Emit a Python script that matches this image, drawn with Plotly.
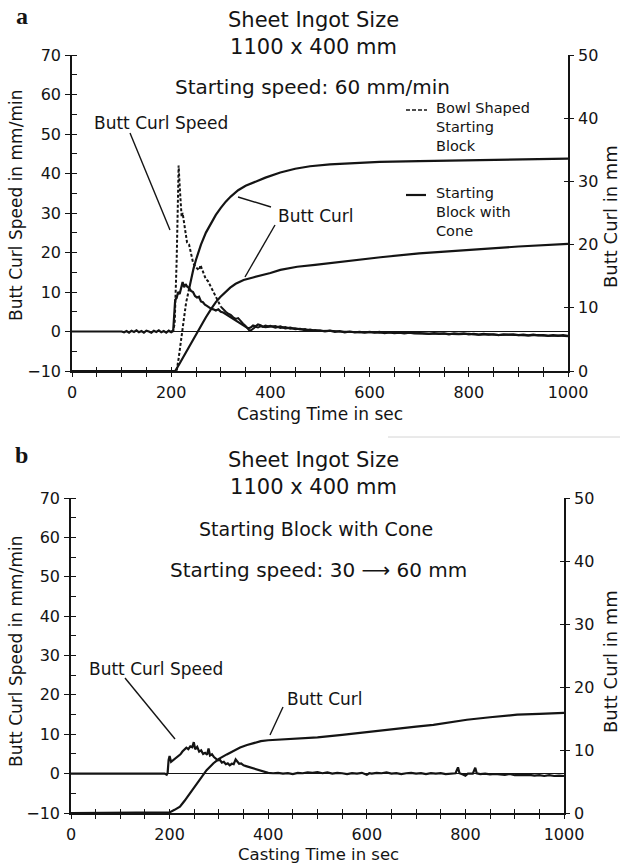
import plotly.graph_objects as go

# ---------------------------------------------------------------- data
# Panel a: starting speed 60 mm/min, two starting-block shapes
t_a_cone_speed = [0, 50, 100, 105, 110, 115, 120, 125, 130, 135, 140, 145, 150, 155, 160, 165, 170, 175,
                  180, 185, 190, 195, 200, 204, 206, 208, 211, 214, 217, 220, 223, 226, 229, 232, 236, 240,
                  244, 248, 252, 256, 260, 264, 268, 272, 276, 280, 285, 290, 295, 300, 305, 310, 315, 320,
                  325, 330, 335, 340, 345, 350, 355, 360, 365, 370, 375, 380, 385, 390, 395, 400, 410, 420,
                  430, 440, 450, 460, 470, 480, 490, 500, 510, 520, 530, 540, 550, 560, 570, 580, 590, 600,
                  610, 620, 630, 640, 650, 660, 670, 680, 690, 700, 710, 720, 730, 740, 750, 760, 770, 780,
                  790, 800, 810, 820, 830, 840, 850, 860, 870, 880, 890, 900, 910, 920, 930, 940, 950, 960,
                  970, 980, 990, 1000]
v_a_cone_speed = [0.0, 0.0, 0.0, -0.2, 0.1, -0.3, 0.2, -0.1, 0.3, -0.2, 0.1, -0.3, 0.2, 0.0, -0.3, 0.2, -0.1, 0.3,
                  -0.2, 0.1, -0.3, 0.2, -0.2, 0.1, 5.5, 8.0, 8.5, 10.0, 9.5, 10.8, 12.5, 11.2, 12.0, 11.4, 11.0, 10.3,
                  10.0, 9.0, 8.6, 8.8, 7.6, 7.4, 6.8, 6.5, 6.1, 5.8, 5.6, 5.3, 5.6, 5.0, 4.8, 4.4, 4.0, 3.5,
                  3.1, 2.7, 2.2, 1.9, 1.4, 1.0, 0.8, 1.0, 1.5, 1.3, 1.8, 1.6, 1.2, 1.5, 1.3, 1.4, 1.0, 1.3,
                  0.8, 1.0, 0.6, 0.7, 0.3, 0.5, 0.2, 0.3, 0.0, 0.2, -0.1, 0.1, -0.2, 0.0, -0.2, -0.1, -0.3, -0.1,
                  -0.3, -0.1, -0.4, -0.2, -0.4, -0.3, -0.5, -0.3, -0.5, -0.4, -0.5, -0.6, -0.4, -0.6, -0.5, -0.7, -0.5, -0.6,
                  -0.5, -0.7, -0.6, -0.8, -0.6, -0.8, -0.7, -0.9, -0.7, -0.8, -0.7, -0.9, -0.8, -1.0, -0.8, -1.0, -0.9, -1.1,
                  -0.9, -1.1, -0.9, -1.1]

t_a_bowl_speed = [200, 204, 207, 209, 211, 213, 215, 217, 219, 221, 223, 226, 229, 232, 236, 240, 244, 248,
                  252, 256, 259, 262, 266, 270, 274, 278, 282, 286, 290, 295, 300, 305, 310, 315, 320, 325,
                  330, 335, 340, 345, 350, 355, 358, 362, 366, 370, 375, 380, 390, 400, 410, 420, 430, 440,
                  450, 460, 470, 480, 490, 500, 520, 540, 560, 580, 600, 620, 640, 660, 680, 700, 720, 740,
                  760, 780, 800, 820, 840, 860, 880, 900, 920, 940, 960, 980, 1000]
v_a_bowl_speed = [0.0, 0.3, 2.0, 8.0, 18.0, 30.0, 42.0, 37.0, 31.0, 29.0, 30.0, 27.0, 24.0, 22.5, 22.0, 19.5, 17.5, 16.5,
                  16.0, 15.5, 16.8, 15.8, 14.0, 13.2, 12.8, 11.8, 10.5, 9.6, 8.5, 7.4, 6.3, 5.6, 5.0, 4.5, 4.2, 3.6,
                  3.2, 3.4, 2.6, 2.0, 1.4, 0.6, 0.2, 0.4, 0.9, 1.2, 1.0, 1.3, 1.1, 1.2, 1.4, 0.9, 1.1, 0.7,
                  0.8, 0.5, 0.6, 0.2, 0.4, 0.1, 0.2, 0.0, -0.1, -0.2, -0.1, -0.3, -0.2, -0.4, -0.3, -0.4, -0.6, -0.5,
                  -0.6, -0.7, -0.6, -0.8, -0.7, -0.9, -0.8, -0.9, -1.0, -0.9, -1.1, -1.0, -1.2]
a_bowl_speed_dash_until = 300

t_a_cone_curl = [0, 208, 215, 220, 230, 240, 250, 260, 270, 282, 290, 299, 310, 319, 330, 346, 365, 387,
                 400, 420, 454, 490, 521, 560, 622, 700, 800, 900, 1000]
v_a_cone_curl = [0.0, 0.0, 0.9, 1.6, 2.9, 4.3, 5.7, 7.1, 8.5, 10.0, 10.9, 11.7, 12.6, 13.2, 13.8, 14.4, 14.8, 15.2,
                 15.5, 16.0, 16.5, 16.8, 17.1, 17.5, 18.0, 18.6, 19.2, 19.7, 20.1]

t_a_bowl_curl = [0, 211, 215, 220, 225, 230, 235, 240, 245, 250, 255, 260, 270, 280, 290, 300, 310, 320,
                 335, 350, 370, 390, 420, 450, 480, 520, 570, 620, 700, 800, 900, 1000]
v_a_bowl_curl = [0.0, 0.0, 2.0, 5.0, 8.0, 10.8, 12.6, 14.5, 16.2, 17.6, 18.9, 20.0, 21.9, 23.4, 24.7, 25.8, 26.8, 27.6,
                 28.6, 29.3, 30.0, 30.6, 31.4, 32.0, 32.4, 32.7, 32.9, 33.1, 33.2, 33.35, 33.5, 33.6]
a_bowl_curl_dash_until = 235

# Panel b: starting block with cone, speed 30 -> 60 mm
t_b_speed = [0, 100, 150, 190, 194, 196, 198, 200, 203, 206, 210, 214, 218, 222, 226, 230, 234, 238, 242, 246,
             249, 252, 256, 260, 264, 268, 272, 276, 279, 282, 286, 290, 294, 298, 302, 306, 310, 314, 318,
             322, 326, 330, 334, 337, 341, 345, 350, 355, 360, 365, 370, 375, 380, 385, 390, 395, 400, 410,
             420, 430, 440, 450, 460, 470, 480, 490, 500, 510, 520, 530, 540, 550, 560, 570, 580, 590, 600,
             605, 610, 620, 630, 640, 650, 660, 670, 680, 690, 700, 710, 720, 730, 740, 750, 760, 770, 780,
             785, 788, 795, 800, 805, 815, 820, 823, 830, 840, 850, 860, 870, 880, 890, 900, 910, 920, 930,
             940, 950, 960, 970, 980, 990, 1000]
v_b_speed = [0.0, 0.0, 0.1, 0.0, -0.3, 0.2, 3.5, 4.5, 3.0, 3.3, 3.6, 4.0, 4.6, 4.9, 5.6, 6.0, 6.6, 6.2, 6.9, 6.7,
             8.0, 6.2, 6.8, 5.6, 5.9, 5.0, 5.3, 4.8, 6.4, 4.6, 4.9, 4.2, 3.9, 3.4, 3.5, 2.8, 3.0, 2.4, 2.6,
             2.1, 2.5, 2.4, 3.6, 3.0, 2.5, 2.6, 2.1, 1.9, 1.7, 1.5, 1.4, 1.1, 0.9, 0.7, 0.6, 0.4, 0.2, 0.1,
             0.2, 0.0, 0.1, -0.1, 0.2, 0.1, 0.3, 0.2, 0.4, 0.1, 0.3, 0.0, 0.2, 0.1, -0.1, 0.1, 0.0, 0.2, -0.3,
             0.1, 0.0, 0.2, 0.1, 0.3, 0.0, 0.1, -0.1, 0.1, 0.2, 0.0, 0.1, -0.1, 0.1, 0.0, 0.1, -0.1, 0.0, 0.1,
             1.6, 0.1, -0.2, -0.5, 0.0, 0.0, 1.5, 0.1, -0.1, 0.0, -0.2, -0.1, -0.2, -0.3, -0.1, -0.4, -0.3, -0.4, -0.3,
             -0.5, -0.4, -0.6, -0.4, -0.6, -0.5, -0.6]

t_b_curl = [0, 194, 200, 210, 221, 230, 241, 250, 262, 275, 289, 300, 316, 330, 343, 357, 370, 385, 400,
            430, 464, 500, 550, 600, 650, 700, 735, 770, 803, 850, 905, 950, 1000]
v_b_curl = [0.0, 0.0, 0.1, 0.5, 1.0, 1.9, 3.1, 4.1, 5.5, 6.8, 7.9, 8.6, 9.3, 9.9, 10.4, 10.8, 11.1, 11.4, 11.55,
            11.7, 11.8, 12.0, 12.4, 12.8, 13.3, 13.7, 14.0, 14.4, 14.8, 15.2, 15.6, 15.75, 15.9]

# axes
time_range = [0, 1000]
time_tick_vals = [0, 200, 400, 600, 800, 1000]
time_tick_text = ["0", "200", "400", "600", "800", "1000"]
speed_range = [-10, 70]
curl_range = [0, 50]

# ---------------------------------------------------------------- style
W, H = 621, 863
FONT = "DejaVu Sans"
SERIF = "Liberation Serif"
INK = "#141414"
LW = 2.2


def px(x):
    """page x (pixels) -> paper fraction"""
    return x / W


def py(y):
    """page y (pixels, from top) -> paper fraction"""
    return 1 - y / H


def split_at(t, v, t_cut):
    first = [(a, b) for a, b in zip(t, v) if a <= t_cut]
    rest = [(a, b) for a, b in zip(t, v) if a >= t_cut]
    return ([a for a, _ in first], [b for _, b in first]), ([a for a, _ in rest], [b for _, b in rest])


fig = go.Figure()


def line(x, y, xa, ya, dash=None, width=LW):
    fig.add_trace(go.Scatter(x=x, y=y, xaxis=xa, yaxis=ya, mode="lines",
                             line=dict(color=INK, width=width, dash=dash),
                             showlegend=False, hoverinfo="skip"))


def dummy(xa, ya):
    fig.add_trace(go.Scatter(x=[None], y=[None], xaxis=xa, yaxis=ya, mode="lines",
                             showlegend=False, hoverinfo="skip"))


# panel a traces
line(t_a_cone_speed, v_a_cone_speed, "x", "y")
(bd_t, bd_v), (bs_t, bs_v) = split_at(t_a_bowl_speed, v_a_bowl_speed, a_bowl_speed_dash_until)
line(bd_t, bd_v, "x", "y", dash="3px,2px", width=2.0)
line(bs_t, bs_v, "x", "y", width=2.0)
line(t_a_cone_curl, v_a_cone_curl, "x", "y2")
(cd_t, cd_v), (cs_t, cs_v) = split_at(t_a_bowl_curl, v_a_bowl_curl, a_bowl_curl_dash_until)
line(cd_t, cd_v, "x", "y2", dash="3px,2px", width=2.0)
line(cs_t, cs_v, "x", "y2")
dummy("x2", "y")
dummy("x", "y3")

# panel b traces
line(t_b_speed, v_b_speed, "x3", "y4")
line(t_b_curl, v_b_curl, "x3", "y5")
dummy("x4", "y4")
dummy("x3", "y6")

tickfont = dict(family=FONT, size=16, color=INK)


def x_axes(dom, anchor, base=None):
    common = dict(domain=dom, range=time_range, anchor=anchor, showgrid=False, zeroline=False, automargin=False,
                  tickmode="array", tickvals=time_tick_vals, tickcolor=INK, tickwidth=1.3, ticklen=4,
                  minor=dict(tickmode="linear", tick0=0, dtick=50, ticklen=4, tickcolor=INK, tickwidth=1.3))
    main = dict(common, ticktext=time_tick_text, ticks="outside", showline=True, linecolor=INK, linewidth=1.6,
                tickfont=tickfont, ticklabelstandoff=2)
    main["minor"] = dict(common["minor"], ticks="outside")
    over = dict(common, ticks="inside", showticklabels=False, showline=False, overlaying=base, side="bottom")
    over["minor"] = dict(common["minor"], ticks="inside")
    return main, over


def y_axes(dom, anchor, base):
    left = dict(domain=dom, range=speed_range, anchor=anchor, showgrid=False, tickmode="linear", tick0=-10,
                dtick=10, ticks="outside", ticklen=5, tickcolor=INK, tickwidth=1.3, showline=True,
                linecolor=INK, linewidth=1.6, tickfont=tickfont, zeroline=True, zerolinecolor=INK,
                zerolinewidth=1.1, automargin=False, ticklabelstandoff=1,
                minor=dict(tickmode="linear", tick0=-10, dtick=5, ticks="inside", ticklen=5, tickcolor=INK,
                           tickwidth=1.3))
    right = dict(range=curl_range, anchor=anchor, overlaying=base, side="right", showgrid=False, zeroline=False,
                 tickmode="linear", tick0=0, dtick=10, ticks="outside", ticklen=4, tickcolor=INK, tickwidth=1.3,
                 showline=True, linecolor=INK, linewidth=1.6, tickfont=tickfont, automargin=False,
                 ticklabelstandoff=1)
    right_in = dict(range=curl_range, anchor=anchor, overlaying=base, side="right", showgrid=False,
                    zeroline=False, tickmode="linear", tick0=0, dtick=10, ticks="inside", ticklen=4,
                    tickcolor=INK, tickwidth=1.3, showticklabels=False, showline=False, automargin=False)
    return left, right, right_in


xa_dom = [px(72), px(568)]
xb_dom = [px(71), px(564)]
ya_dom = [py(371), py(55)]
yb_dom = [py(813), py(498)]

xa, xa_over = x_axes(xa_dom, "y", "x")
xb, xb_over = x_axes(xb_dom, "y4", "x3")
ya_l, ya_r, ya_ri = y_axes(ya_dom, "x", "y")
yb_l, yb_r, yb_ri = y_axes(yb_dom, "x3", "y4")

annotations = []


def text(s, x, y, size=16, family=FONT, xanchor="center", angle=0, bold=False, align="center"):
    annotations.append(dict(text=f"<b>{s}</b>" if bold else s, x=px(x), y=py(y), xref="paper", yref="paper",
                            xanchor=xanchor, yanchor="middle", showarrow=False, textangle=angle, align=align,
                            font=dict(family=family, size=size, color=INK)))


# panel a texts
text("a", 22, 16, size=24, family=SERIF, bold=True)
text("Sheet Ingot Size<br>1100 x 400 mm", 313, 33, size=21)
text("Starting speed: 60 mm/min", 312, 87, size=20)
text("Butt Curl Speed", 92, 123, size=17, xanchor="left")
text("Butt Curl", 276, 216, size=17, xanchor="left")
text("Bowl Shaped<br>Starting<br>Block", 434, 127, size=14.5, xanchor="left", align="left")
text("Starting<br>Block with<br>Cone", 434, 212, size=14.5, xanchor="left", align="left")
text("Casting Time in sec", 320, 414, size=17)
text("Butt Curl Speed in mm/min", 16, 206, size=17, angle=-90)
text("Butt Curl in mm", 610, 217, size=18, angle=-90)

# panel b texts
text("b", 21, 455, size=24, family=SERIF, bold=True)
text("Sheet Ingot Size<br>1100 x 400 mm", 313, 473, size=21)
text("Starting Block with Cone", 316, 529, size=19)
text("Starting speed: 30 \u27f6 60 mm", 318, 570, size=20)
text("Butt Curl Speed", 87, 669, size=17, xanchor="left")
text("Butt Curl", 285, 699, size=17, xanchor="left")
text("Casting Time in sec", 318, 854, size=16.5)
text("Butt Curl Speed in mm/min", 16, 652, size=17, angle=-90)
text("Butt Curl in mm", 610, 662, size=18, angle=-90)

shapes = []


def seg(x0, y0, x1, y1, width=1.4, dash=None, color=INK):
    shapes.append(dict(type="line", xref="paper", yref="paper", x0=px(x0), y0=py(y0), x1=px(x1), y1=py(y1),
                       line=dict(color=color, width=width, dash=dash)))


# leader lines
seg(130, 133, 170, 230)
seg(271, 207, 238, 197)
seg(275, 225, 245, 277)
seg(125, 678, 175, 739)
seg(283, 707, 270, 735)
# key samples
seg(406, 110, 427, 110, width=1.6, dash="4px,2px")
seg(406, 195, 426, 195, width=2.2)
# faint rule between the two panels
seg(388, 437, 620, 437, width=1, color="#d4d4d4")

fig.update_layout(
    width=W, height=H, autosize=False,
    margin=dict(l=0, r=0, t=0, b=0, pad=0, autoexpand=False),
    paper_bgcolor="white", plot_bgcolor="white",
    xaxis=xa, xaxis2=xa_over, xaxis3=xb, xaxis4=xb_over,
    yaxis=ya_l, yaxis2=ya_r, yaxis3=ya_ri,
    yaxis4=yb_l, yaxis5=yb_r, yaxis6=yb_ri,
    annotations=annotations, shapes=shapes,
    showlegend=False,
)

fig.write_html("out.html", config={"displayModeBar": False})
